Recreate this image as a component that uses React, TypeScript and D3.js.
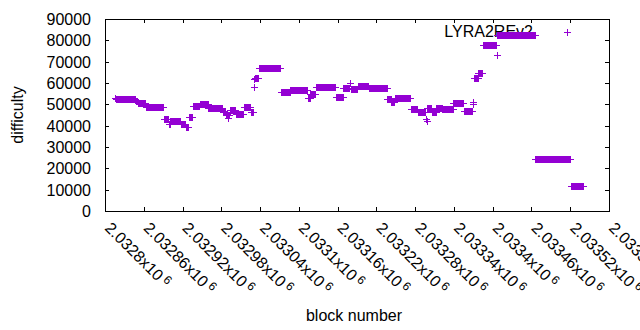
import * as d3 from 'd3';

// difficulty runs: every block from runStart[i] to runEnd[i] has runDifficulty[i]
const runStart = [
  2032816, 2032817, 2032848, 2032851, 2032863, 2032891, 2032899, 2032901, 2032917, 2032925,
  2032930, 2032936, 2032947, 2032960, 2032968, 2032982, 2032987, 2032990, 2032991, 2032993,
  2033002, 2033015, 2033026, 2033030, 2033031, 2033032, 2033038, 2033072, 2033087, 2033114,
  2033118, 2033126, 2033157, 2033169, 2033179, 2033180, 2033191, 2033208, 2033237, 2033243,
  2033249, 2033273, 2033284, 2033297, 2033298, 2033299, 2033306, 2033313, 2033322, 2033339,
  2033355, 2033369, 2033370, 2033371, 2033378, 2033385, 2033406, 2033407, 2033466, 2033521,
];
const runEnd = [
  2032816, 2032847, 2032850, 2032862, 2032890, 2032898, 2032900, 2032916, 2032924, 2032929,
  2032935, 2032946, 2032959, 2032967, 2032981, 2032986, 2032989, 2032990, 2032992, 2033001,
  2033014, 2033025, 2033029, 2033030, 2033031, 2033037, 2033071, 2033086, 2033113, 2033117,
  2033125, 2033156, 2033168, 2033178, 2033179, 2033190, 2033207, 2033236, 2033242, 2033248,
  2033272, 2033283, 2033296, 2033297, 2033298, 2033305, 2033312, 2033321, 2033338, 2033354,
  2033368, 2033369, 2033370, 2033377, 2033384, 2033405, 2033406, 2033465, 2033520, 2033539,
];
const runDifficulty = [
  53200, 52400, 51500, 50400, 48600, 43000, 40800, 42000, 40900, 39500,
  44000, 49400, 50200, 48400, 48100, 46500, 45400, 43400, 45000, 47300,
  45300, 48700, 46300, 62000, 58300, 62200, 66900, 56000, 56600, 53100,
  54700, 58000, 53300, 57500, 59900, 57200, 58400, 57500, 52500, 51000,
  52800, 47800, 46400, 43000, 42200, 48300, 46400, 48300, 47800, 50800,
  46700, 50200, 51000, 62300, 64500, 77700, 73000, 82500, 24200, 11900,
];

const xTicks = [
  2032800, 2032860, 2032920, 2032980, 2033040, 2033100, 2033160,
  2033220, 2033280, 2033340, 2033400, 2033460, 2033520, 2033580,
];
const xTickLabels = [
  '2.0328', '2.03286', '2.03292', '2.03298', '2.03304', '2.0331', '2.03316',
  '2.03322', '2.03328', '2.03334', '2.0334', '2.03346', '2.03352', '2.03358',
];
const yTicks = [0, 10000, 20000, 30000, 40000, 50000, 60000, 70000, 80000, 90000];

const seriesName = 'LYRA2REv2';
const color = '#9400d3';
const font = '"Liberation Sans", Arial, sans-serif';

function App() {
  const width = 640;
  const height = 330;
  const left = 105;
  const right = 609;
  const top = 19;
  const bottom = 211;

  const x = d3.scaleLinear().domain([2032800, 2033580]).range([left, right]);
  const y = d3.scaleLinear().domain([0, 90000]).range([bottom, top]);

  const points: [number, number][] = [];
  runStart.forEach((s, i) => {
    for (let b = s; b <= runEnd[i]; b++) points.push([b, runDifficulty[i]]);
  });

  const plus = (px: number, py: number) =>
    `M${px - 3},${py + 0.5}h7M${px + 0.5},${py - 3}v7`;

  const marks = points
    .map(([b, v]) => plus(Math.round(x(b)), Math.round(y(v))))
    .join('');

  return (
    <svg
      width={width}
      height={height}
      style={{ position: 'absolute', left: 0, top: 0, background: '#fff' }}
      fontFamily={font}
    >
      <g stroke="#000" strokeWidth={1} shapeRendering="crispEdges">
        {yTicks.map((t) => {
          const py = Math.round(y(t)) + 0.5;
          return (
            <g key={t}>
              <line x1={left} x2={left + 4} y1={py} y2={py} />
              <line x1={right - 4} x2={right} y1={py} y2={py} />
            </g>
          );
        })}
        {xTicks.map((t) => {
          const px = Math.round(x(t)) + 0.5;
          return (
            <g key={t}>
              <line x1={px} x2={px} y1={bottom} y2={bottom - 4} />
              <line x1={px} x2={px} y1={top} y2={top + 4} />
            </g>
          );
        })}
        <rect x={left + 0.5} y={top + 0.5} width={right - left} height={bottom - top} fill="none" />
      </g>

      {yTicks.map((t) => (
        <text key={t} x={91} y={y(t) + 6} textAnchor="end" fontSize={16} fill="#000">
          {t}
        </text>
      ))}

      {xTicks.map((t, i) => (
        <text
          key={t}
          transform={`translate(${x(t) - 1},229) rotate(45)`}
          fontSize={16}
          fill="#000"
        >
          {xTickLabels[i]}x10
          <tspan fontSize={12} dx={3} dy={-5}>
            6
          </tspan>
        </text>
      ))}

      <text x={17} y={115} transform="rotate(-90,17,115)" textAnchor="middle" dy={6} fontSize={16}>
        difficulty
      </text>
      <text x={354} y={321} textAnchor="middle" fontSize={16}>
        block number
      </text>

      <text x={533} y={37} textAnchor="end" fontSize={16}>
        {seriesName}
      </text>

      <g stroke={color} strokeWidth={1} fill="none" shapeRendering="crispEdges">
        <path d={plus(567, 32)} />
        <path d={marks} />
      </g>
    </svg>
  );
}

export default App;
